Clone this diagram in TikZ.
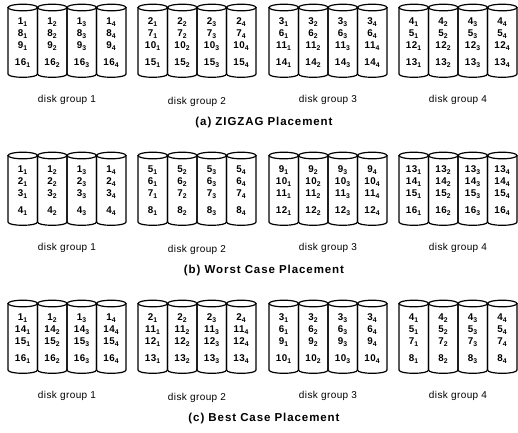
\documentclass[tikz,border=0pt]{standalone}
\usepackage{fontspec}
\setmainfont{Liberation Sans}
\begin{document}
\begin{tikzpicture}[x=1pt,y=-1pt,
  cylline/.style={draw=black, line width=1.2pt},
  num/.style={font=\bfseries\fontsize{9.8}{10}\selectfont\addfontfeature{LetterSpace=5}, inner sep=0pt},
  lab/.style={font=\fontsize{10}{11}\selectfont\addfontfeature{LetterSpace=4}, inner sep=0pt},
  ttl/.style={font=\bfseries\fontsize{11.5}{12}\selectfont\addfontfeature{LetterSpace=8}, inner sep=0pt}]
\useasboundingbox (0,0) rectangle (518,432);
\def\cw{29.5}
\def\ry{3.3}
\foreach \r/\T/\g/\xl/\na/\nb/\nc/\nd in {
  a/4/1/8/1/8/9/16, a/4/2/138/2/7/10/15, a/4/3/269/3/6/11/14, a/4/4/399/4/5/12/13,
  b/152/1/8/1/2/3/4, b/152/2/138/5/6/7/8, b/152/3/269/9/10/11/12, b/152/4/399/13/14/15/16,
  c/300/1/8/1/14/15/16, c/300/2/138/2/11/12/13, c/300/3/269/3/6/9/10, c/300/4/399/4/5/7/8}{
  \foreach \k in {1,2,3,4}{
    \pgfmathsetmacro\xa{\xl+(\k-1)*\cw}
    \pgfmathsetmacro\xb{\xa+\cw}
    \pgfmathsetmacro\xc{\xa+\cw/2}
    \pgfmathsetmacro\yt{\T+3.5}
    \pgfmathsetmacro\yb{\T+70}
    \pgfmathsetmacro\yc{\yb+4/3*\ry}
    \draw[cylline] (\xc,\yt) ellipse[x radius=\cw/2, y radius=\ry];
    \draw[cylline] (\xa,\yt) -- (\xa,\yb) .. controls (\xa,\yc) and (\xb,\yc) .. (\xb,\yb) -- (\xb,\yt);
    \node[num] (n-\r-\g-\k-1) at (\xc,\T+18) {\na\textsubscript{\k}};
    \node[num] (n-\r-\g-\k-2) at (\xc,\T+30) {\nb\textsubscript{\k}};
    \node[num] (n-\r-\g-\k-3) at (\xc,\T+42) {\nc\textsubscript{\k}};
    \node[num] (n-\r-\g-\k-4) at (\xc,\T+59) {\nd\textsubscript{\k}};
  }
  \pgfmathsetmacro\xm{\xl+2*\cw}
  \pgfmathsetmacro\dy{ifthenelse(\g==2,2,0)}
  \node[lab] (lab-\r-\g) at (\xm,\T+96+\dy) {disk group \g};
}
\node[ttl] (ttl-a) at (264,123) {(a) ZIGZAG Placement};
\node[ttl] (ttl-b) at (264,271) {(b) Worst Case Placement};
\node[ttl] (ttl-c) at (264,419) {(c) Best Case Placement};
\end{tikzpicture}
\end{document}
